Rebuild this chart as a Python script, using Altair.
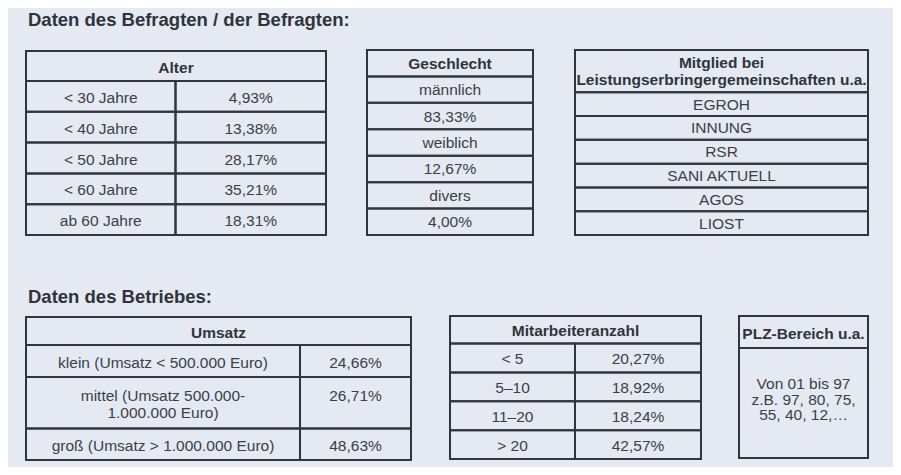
import altair as alt
import pandas as pd

# ---------------- data ----------------
title_top = "Daten des Befragten / der Befragten:"
title_bottom = "Daten des Betriebes:"

alter_header = "Alter"
alter_labels = ["< 30 Jahre", "< 40 Jahre", "< 50 Jahre", "< 60 Jahre", "ab 60 Jahre"]
alter_values = ["4,93%", "13,38%", "28,17%", "35,21%", "18,31%"]

geschlecht_header = "Geschlecht"
geschlecht_labels = ["männlich", "weiblich", "divers"]
geschlecht_values = ["83,33%", "12,67%", "4,00%"]

mitglied_header = ["Mitglied bei", "Leistungserbringergemeinschaften u.a."]
mitglied_items = ["EGROH", "INNUNG", "RSR", "SANI AKTUELL", "AGOS", "LIOST"]

umsatz_header = "Umsatz"
umsatz_labels = [["klein (Umsatz < 500.000 Euro)"],
                 ["mittel (Umsatz 500.000-", "1.000.000 Euro)"],
                 ["groß (Umsatz > 1.000.000 Euro)"]]
umsatz_values = ["24,66%", "26,71%", "48,63%"]

mitarbeiter_header = "Mitarbeiteranzahl"
mitarbeiter_labels = ["< 5", "5–10", "11–20", "> 20"]
mitarbeiter_values = ["20,27%", "18,92%", "18,24%", "42,57%"]

plz_header = "PLZ-Bereich u.a."
plz_lines = ["Von 01 bis 97", "z.B. 97, 80, 75,", "55, 40, 12,…"]

# ---------------- layout (pixel space of the picture) ----------------
cells = []
texts = []


def cell(x1, x2, y1, y2):
    cells.append(dict(x1=x1, x2=x2, y1=y1, y2=y2))


def txt(x, y, t, kind):
    texts.append(dict(x=x, y=y, t=t, kind=kind))


txt(28, 20, title_top, "title")
txt(28, 297, title_bottom, "title")

# Alter
ax0, ax1, adiv = 26, 326, 175.5
top, hdr, rh = 51, 81, 30.8
cell(ax0, ax1, top, hdr)
txt((ax0 + ax1) / 2, (top + hdr) / 2, alter_header, "header")
for i, (lab, val) in enumerate(zip(alter_labels, alter_values)):
    y1 = hdr + i * rh
    y2 = y1 + rh
    cell(ax0, adiv, y1, y2)
    cell(adiv, ax1, y1, y2)
    txt((ax0 + adiv) / 2, (y1 + y2) / 2, lab, "body")
    txt((adiv + ax1) / 2, (y1 + y2) / 2, val, "body")

# Geschlecht
gx0, gx1 = 367, 533
gtop, gbot = 50, 235
g_rows = [(geschlecht_header, "header")]
for lab, val in zip(geschlecht_labels, geschlecht_values):
    g_rows += [(lab, "body"), (val, "body")]
gh = (gbot - gtop) / len(g_rows)
for i, (t, k) in enumerate(g_rows):
    y1 = gtop + i * gh
    cell(gx0, gx1, y1, y1 + gh)
    txt((gx0 + gx1) / 2, y1 + gh / 2 - 1, t, k)

# Mitglied
mx0, mx1 = 575, 868
mtop, mhdr, mbot = 50, 92.3, 235
cell(mx0, mx1, mtop, mhdr)
txt((mx0 + mx1) / 2, 61, mitglied_header[0], "header")
txt((mx0 + mx1) / 2, 78, mitglied_header[1], "header")
mh = (mbot - mhdr) / len(mitglied_items)
for i, t in enumerate(mitglied_items):
    y1 = mhdr + i * mh
    cell(mx0, mx1, y1, y1 + mh)
    txt((mx0 + mx1) / 2, y1 + mh / 2 - 1, t, "body")

# Umsatz
ux0, ux1, udiv = 26, 411, 300
uedges = [317, 345, 377, 428.5, 460]
cell(ux0, ux1, uedges[0], uedges[1])
txt((ux0 + ux1) / 2, (uedges[0] + uedges[1]) / 2, umsatz_header, "header")
for i, (lines, val) in enumerate(zip(umsatz_labels, umsatz_values)):
    y1, y2 = uedges[i + 1], uedges[i + 2]
    cell(ux0, udiv, y1, y2)
    cell(udiv, ux1, y1, y2)
    if len(lines) == 1:
        ys = [(y1 + y2) / 2]
        vy = ys[0]
    else:
        ys = [y1 + 17, y1 + 34]
        vy = ys[0]
    for ly, line in zip(ys, lines):
        txt((ux0 + udiv) / 2, ly, line, "body")
    txt((udiv + ux1) / 2, vy, val, "body")

# Mitarbeiteranzahl
wx0, wx1, wdiv = 450, 701, 575
wtop, whdr, wbot = 316, 343.5, 459
cell(wx0, wx1, wtop, whdr)
txt((wx0 + wx1) / 2, (wtop + whdr) / 2, mitarbeiter_header, "header")
wh = (wbot - whdr) / len(mitarbeiter_labels)
for i, (lab, val) in enumerate(zip(mitarbeiter_labels, mitarbeiter_values)):
    y1 = whdr + i * wh
    cell(wx0, wdiv, y1, y1 + wh)
    cell(wdiv, wx1, y1, y1 + wh)
    txt((wx0 + wdiv) / 2, y1 + wh / 2, lab, "body")
    txt((wdiv + wx1) / 2, y1 + wh / 2, val, "body")

# PLZ
px0, px1 = 739, 868
ptop, phdr, pbot = 316, 348, 458
cell(px0, px1, ptop, phdr)
cell(px0, px1, phdr, pbot)
txt((px0 + px1) / 2, (ptop + phdr) / 2, plz_header, "header")
for i, line in enumerate(plz_lines):
    txt((px0 + px1) / 2, 382.5 + i * 15.5, line, "body")

cells_df = pd.DataFrame(cells)
texts_df = pd.DataFrame(texts)

# ---------------- chart ----------------
W, H = 885, 459
xs = alt.Scale(domain=[8, 8 + W], range=[0, W], nice=False, zero=False)
ys = alt.Scale(domain=[8, 8 + H], range=[0, H], nice=False, zero=False)

BORDER = "#31353d"
TEXT = "#3b3f47"
FONT = "Liberation Sans"

rects = alt.Chart(cells_df).mark_rect(
    fill="transparent", stroke=BORDER, strokeWidth=2
).encode(
    x=alt.X("x1:Q", scale=xs, axis=None),
    x2="x2:Q",
    y=alt.Y("y1:Q", scale=ys, axis=None),
    y2="y2:Q",
)

titles = alt.Chart(texts_df).transform_filter(
    alt.datum.kind == "title"
).mark_text(
    align="left", baseline="middle", font=FONT, fontSize=18.5,
    fontWeight="bold", color="#2f333b"
).encode(
    x=alt.X("x:Q", scale=xs, axis=None),
    y=alt.Y("y:Q", scale=ys, axis=None),
    text="t:N",
)

headers = alt.Chart(texts_df).transform_filter(
    alt.datum.kind == "header"
).mark_text(
    align="center", baseline="middle", font=FONT, fontSize=15.5,
    fontWeight="bold", color="#30343c", dy=1.5
).encode(
    x=alt.X("x:Q", scale=xs, axis=None),
    y=alt.Y("y:Q", scale=ys, axis=None),
    text="t:N",
)

body = alt.Chart(texts_df).transform_filter(
    alt.datum.kind == "body"
).mark_text(
    align="center", baseline="middle", font=FONT, fontSize=15.5, color=TEXT,
    dy=1.5
).encode(
    x=alt.X("x:Q", scale=xs, axis=None),
    y=alt.Y("y:Q", scale=ys, axis=None),
    text="t:N",
)

chart = alt.layer(rects, titles, headers, body).properties(
    width=W, height=H, padding=0,
    autosize=alt.AutoSizeParams(type="none"),
    background="#e5e9f2",
).configure_view(stroke=None)

chart.save("out.html", embed_options={"renderer": "svg", "actions": False})
